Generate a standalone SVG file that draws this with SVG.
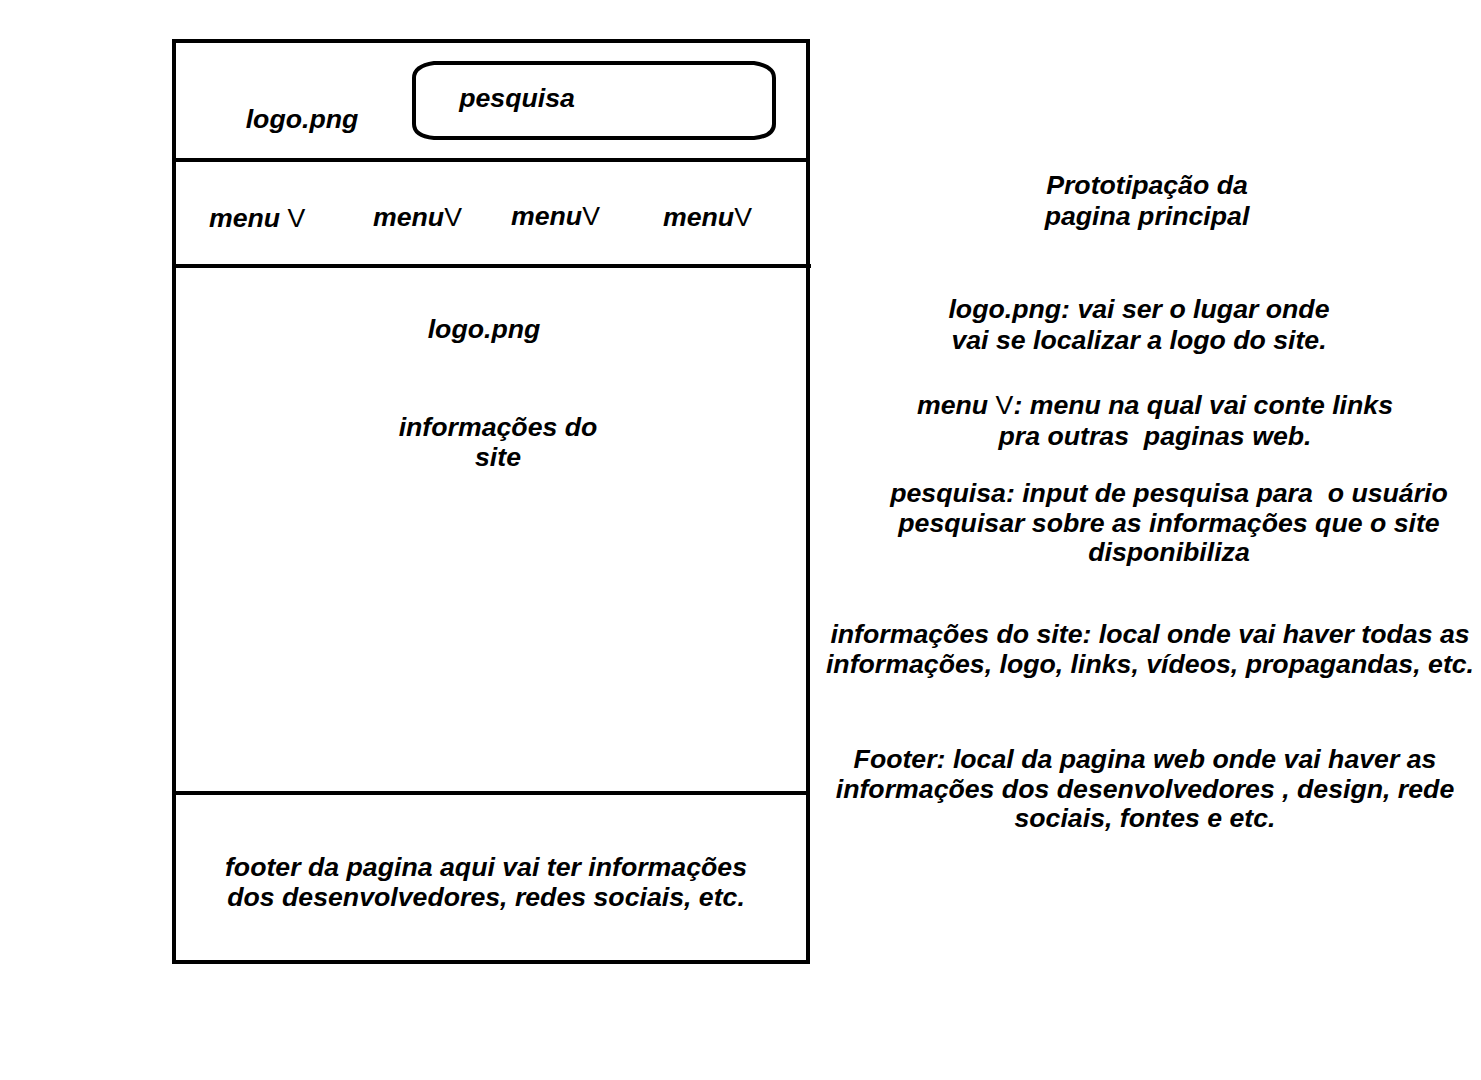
<svg xmlns="http://www.w3.org/2000/svg" width="1481" height="1080" viewBox="0 0 1481 1080">
<style>
.t{font-family:"Liberation Sans",Arial,sans-serif;font-size:26.7px;font-weight:bold;font-style:italic;fill:#000;}
.v{font-weight:normal;font-style:normal;}
.ln{stroke:#000;stroke-width:4;fill:none;}
</style>
<rect width="1481" height="1080" fill="#fff"/>
<g id="page">
<rect class="ln" x="174" y="41" width="634" height="921"/>
</g>
<g id="connectors">
<line class="ln" x1="174" y1="160" x2="808" y2="160"/>
<line class="ln" x1="174" y1="266" x2="811" y2="266"/>
<line class="ln" x1="174" y1="793" x2="808" y2="793"/>
</g>
<g id="header">
<text class="t" x="302" y="128" text-anchor="middle">logo.png</text>
<path class="ln" d="M434,63 L754,63 Q774,66 774,78 L774,124 Q774,136 754,138 L434,138 Q414,136 414,124 L414,78 Q414,66 434,63 Z"/>
<text class="t" x="517" y="107" text-anchor="middle">pesquisa</text>
</g>
<g id="menu">
<text class="t" x="209" y="227">menu <tspan class="v">V</tspan></text>
<text class="t" x="373" y="226">menu<tspan class="v">V</tspan></text>
<text class="t" x="511" y="225">menu<tspan class="v">V</tspan></text>
<text class="t" x="663" y="226">menu<tspan class="v">V</tspan></text>
</g>
<g id="content">
<text class="t" x="484" y="338" text-anchor="middle">logo.png</text>
<text class="t" x="498" y="436" text-anchor="middle">informações do</text>
<text class="t" x="498" y="466" text-anchor="middle">site</text>
</g>
<g id="footer">
<text class="t" x="486" y="876" text-anchor="middle">footer da pagina aqui vai ter informações</text>
<text class="t" x="486" y="906" text-anchor="middle">dos desenvolvedores, redes sociais, etc.</text>
</g>
<g id="notes">
<text class="t" x="1147" y="194" text-anchor="middle">Prototipação da</text>
<text class="t" x="1147" y="225" text-anchor="middle">pagina principal</text>
<text class="t" x="1139" y="318" text-anchor="middle">logo.png: vai ser o lugar onde</text>
<text class="t" x="1139" y="349" text-anchor="middle">vai se localizar a logo do site.</text>
<text class="t" x="1155" y="414" text-anchor="middle">menu <tspan class="v">V</tspan>: menu na qual vai conte links</text>
<text class="t" x="1155" y="445" text-anchor="middle" xml:space="preserve">pra outras  paginas web.</text>
<text class="t" x="1169" y="502" text-anchor="middle" xml:space="preserve">pesquisa: input de pesquisa para  o usuário</text>
<text class="t" x="1169" y="532" text-anchor="middle">pesquisar sobre as informações que o site</text>
<text class="t" x="1169" y="561" text-anchor="middle">disponibiliza</text>
<text class="t" x="1150" y="643" text-anchor="middle">informações do site: local onde vai haver todas as</text>
<text class="t" x="1150" y="673" text-anchor="middle">informações, logo, links, vídeos, propagandas, etc.</text>
<text class="t" x="1145" y="768" text-anchor="middle">Footer: local da pagina web onde vai haver as</text>
<text class="t" x="1145" y="798" text-anchor="middle">informações dos desenvolvedores , design, rede</text>
<text class="t" x="1145" y="827" text-anchor="middle">sociais, fontes e etc.</text>
</g>
</svg>
